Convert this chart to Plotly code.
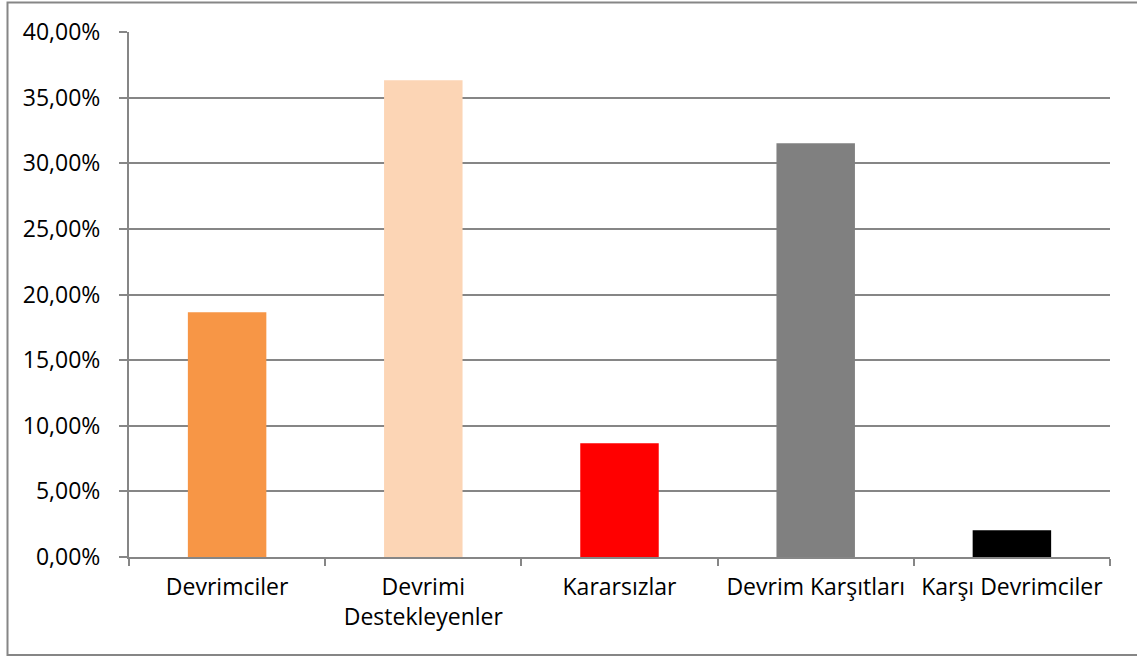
import plotly.graph_objects as go

categories = ["Devrimciler", "Devrimi<br>Destekleyenler", "Kararsızlar", "Devrim Karşıtları", "Karşı Devrimciler"]
values = [0.1865, 0.3633, 0.0867, 0.3153, 0.0203]
colors = ["#F79646", "#FCD5B5", "#FF0000", "#808080", "#000000"]
y_ticks = [0, 0.05, 0.10, 0.15, 0.20, 0.25, 0.30, 0.35, 0.40]

W, H = 1137, 657
L, R, T, B = 129, 27, 32, 100
pw, ph = W - L - R, H - T - B

def px_to_paper_x(px):
    return (px - L) / pw

def px_to_paper_y(py):
    return (H - B - py) / ph

fig = go.Figure(go.Bar(
    x=categories, y=values, marker=dict(color=colors, line=dict(width=0)),
    width=0.4, hoverinfo="skip"
))

font = dict(family="Open Sans, Noto Sans, sans-serif", size=23, color="#000000")

fig.update_layout(
    width=W, height=H,
    margin=dict(l=L, r=R, t=T, b=B, autoexpand=False),
    paper_bgcolor="white", plot_bgcolor="white",
    separators=",.",
    showlegend=False,
    font=font,
    xaxis=dict(
        type="category", showgrid=False, showline=True, linecolor="#868686", linewidth=2,
        ticks="outside", tickson="boundaries", ticklen=7, tickcolor="#868686", tickwidth=2,
        tickfont=font, ticklabelstandoff=8,
    ),
    yaxis=dict(
        range=[0, 0.40], tickvals=y_ticks, tickformat=".2%",
        showgrid=True, gridcolor="#868686", gridwidth=2,
        showline=True, linecolor="#868686", linewidth=2,
        ticks="outside", ticklen=8, tickcolor="#868686", tickwidth=2,
        tickfont=font, ticklabelstandoff=14, zeroline=False,
    ),
    shapes=[dict(
        type="rect", xref="paper", yref="paper",
        x0=px_to_paper_x(7.5), x1=px_to_paper_x(1145),
        y0=px_to_paper_y(655), y1=px_to_paper_y(2.5),
        line=dict(color="#868686", width=2), fillcolor="rgba(0,0,0,0)", layer="below",
    )],
)

fig.write_html(
    "out.html",
    config={"displayModeBar": False},
    post_script="document.body.style.margin='0px';document.body.style.overflow='hidden';",
)
